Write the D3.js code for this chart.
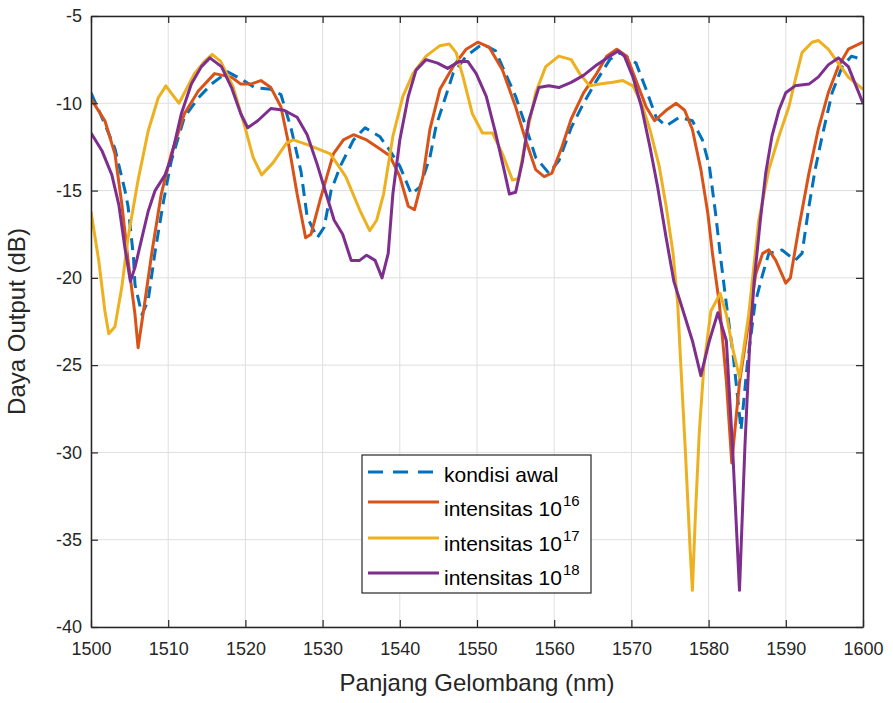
<!DOCTYPE html>
<html>
<head>
<meta charset="utf-8">
<script src="https://d3js.org/d3.v7.min.js"></script>
<style>
  body { margin: 0; background: #fff; }
  text { font-family: "Liberation Sans", Arial, sans-serif; }
  .tick text { fill: #262626; font-size: 18px; }
</style>
</head>
<body>
<div id="chart"></div>
<script>
// data (wavelength in nm, output in dB)
var awalX = [1500, 1501.8, 1503.1, 1504.4, 1504.8, 1505.5, 1505.7, 1506.6, 1507.4, 1508.3, 1509.4, 1510.4, 1512.1, 1513.9, 1515.6, 1517.7, 1519.4, 1521.2, 1523.3, 1524.6, 1525.9, 1527.2, 1528, 1529.3, 1530.2, 1531.1, 1532.3, 1534, 1535.5, 1537.4, 1538.7, 1540, 1541.5, 1542.6, 1543.9, 1544.7, 1545.8, 1546.9, 1548.6, 1550.7, 1552.4, 1553.7, 1555, 1556.3, 1557.6, 1559.3, 1560.6, 1562.2, 1563.8, 1565.5, 1567.2, 1568.5, 1570.6, 1571.9, 1573.2, 1574.5, 1576.2, 1577.9, 1579.2, 1580.1, 1580.9, 1581.6, 1582.3, 1583.2, 1584.2, 1585, 1586, 1587, 1587.8, 1589.5, 1591.2, 1592.1, 1593, 1593.8, 1594.7, 1596, 1597.3, 1598.5, 1600];
var awalY = [-9.4, -11.2, -12.6, -15.0, -15.9, -18.8, -20.4, -22.1, -21.3, -18.5, -15.6, -13.3, -10.8, -9.7, -8.9, -8.2, -8.6, -9.1, -9.2, -9.5, -11.4, -13.9, -16.5, -17.7, -17.1, -15.0, -13.6, -12.1, -11.4, -11.9, -12.7, -13.6, -15.2, -14.8, -13.1, -11.3, -9.8, -8.3, -7.3, -6.6, -7.0, -8.3, -9.6, -11.3, -13.1, -14, -13.3, -11.4, -10, -8.7, -7.5, -7.1, -7.7, -9.2, -10.8, -11.3, -10.8, -11, -12.1, -13.6, -16.3, -19, -21.5, -24.5, -28.7, -25, -21.5, -19.8, -18.6, -18.4, -19, -18.6, -15.9, -13.8, -11.9, -9.4, -7.9, -7.3, -7.5];

var i16X = [1500, 1501.8, 1503.1, 1504, 1504.8, 1505.7, 1506.1, 1507, 1507.9, 1509.1, 1510.4, 1512.1, 1513.9, 1516, 1518.2, 1519.4, 1520.7, 1522, 1523.3, 1524.6, 1525.5, 1526.7, 1527.8, 1528.5, 1529.7, 1531.4, 1532.7, 1534, 1535.7, 1537.4, 1538.7, 1540, 1541.1, 1541.9, 1543, 1543.9, 1545.2, 1546.9, 1548.6, 1550.1, 1551.6, 1553.3, 1555, 1556.3, 1557.6, 1558.7, 1559.7, 1561, 1562.2, 1563.8, 1565.5, 1566.8, 1568.1, 1569.4, 1570.6, 1571.9, 1573, 1574.5, 1575.8, 1576.9, 1577.9, 1579, 1579.9, 1580.5, 1581.4, 1582.3, 1583, 1584, 1585.2, 1586.1, 1587, 1587.8, 1588.7, 1590, 1590.6, 1591.7, 1593, 1594.2, 1595.5, 1596.8, 1598.1, 1600];
var i16Y = [-9.75, -11, -12.9, -15.8, -19, -22.1, -24, -21.3, -18.5, -15.2, -12.9, -10.6, -9.3, -8.3, -8.5, -8.9, -8.9, -8.7, -9.1, -10.2, -12.1, -15.2, -17.7, -17.5, -15.5, -12.9, -12.1, -11.8, -12.1, -12.6, -13, -14.2, -15.9, -16.1, -14.2, -11.5, -9.2, -7.9, -6.9, -6.5, -6.8, -8.1, -10.2, -12.1, -13.8, -14.2, -14, -12.5, -10.9, -9.4, -8.3, -7.3, -6.9, -7.3, -8.7, -10.2, -11, -10.4, -10, -10.4, -11.5, -13.8, -16.3, -18.6, -21.5, -25.9, -30.6, -26, -22.5, -19.8, -18.6, -18.4, -19, -20.3, -20, -17.1, -14, -11.5, -9.4, -7.9, -6.9, -6.5];

var i17X = [1500, 1501, 1501.8, 1502.3, 1503.1, 1504, 1504.8, 1506.1, 1507.4, 1508.7, 1509.7, 1511.4, 1513.4, 1514.7, 1515.7, 1516.8, 1518.4, 1519.9, 1521, 1522.1, 1523.6, 1525.3, 1526.2, 1528.2, 1531, 1533, 1534.8, 1536.1, 1537, 1537.9, 1539.1, 1540.4, 1541.7, 1543.4, 1545.2, 1546.4, 1547.3, 1548.2, 1549.4, 1550.7, 1552, 1553.3, 1554.6, 1555.4, 1556.3, 1557.6, 1558.9, 1560.6, 1562.2, 1563.3, 1564.6, 1565.9, 1567.6, 1568.9, 1570.2, 1571.3, 1572.4, 1573.6, 1574.5, 1575.4, 1576, 1576.4, 1577, 1577.6, 1577.9, 1578.3, 1578.8, 1579.4, 1580.3, 1581.5, 1582.3, 1583.1, 1584, 1585.2, 1586.5, 1587.8, 1589.1, 1590.4, 1591.2, 1592.1, 1593.4, 1594.2, 1595.5, 1596.8, 1598.1, 1600];
var i17Y = [-16.2, -19, -21.9, -23.2, -22.8, -20.5, -17.7, -14.4, -11.6, -9.7, -9, -10, -8.3, -7.6, -7.2, -7.6, -9.05, -11.3, -13.1, -14.1, -13.4, -12.3, -12.1, -12.4, -12.9, -14.2, -16.1, -17.3, -16.7, -15.2, -11.9, -9.6, -8.3, -7.3, -6.7, -6.6, -7.1, -8.5, -10.6, -11.7, -11.7, -12.9, -14.4, -14.3, -12.1, -9.4, -7.9, -7.3, -7.5, -8.3, -9, -8.9, -8.8, -8.7, -9, -10, -11.5, -13.6, -15.9, -18.6, -21.5, -25, -30, -35.5, -37.9, -33.5, -28.8, -25, -21.9, -20.9, -22.1, -24, -25.7, -22.1, -16.7, -13.8, -11.9, -10.2, -8.7, -7.1, -6.5, -6.4, -6.9, -7.7, -8.5, -9.2];

var i18X = [1500, 1501.4, 1502.7, 1503.6, 1504.4, 1505.1, 1505.7, 1506.6, 1507.4, 1508.3, 1509.6, 1510.4, 1511.7, 1513, 1514.3, 1515.4, 1516.9, 1518.2, 1519.4, 1520.3, 1521.6, 1523.3, 1525, 1526.7, 1528, 1529.3, 1530.6, 1531.5, 1532.6, 1533.7, 1534.8, 1535.7, 1536.8, 1537.7, 1538.5, 1539.1, 1540, 1541.1, 1542.1, 1543.4, 1544.9, 1546.2, 1547.7, 1548.8, 1549.9, 1551.2, 1552.4, 1553.5, 1554.2, 1555, 1555.9, 1556.7, 1558, 1559.3, 1560.6, 1562.2, 1563.8, 1565.5, 1567.2, 1568.3, 1569.1, 1570.2, 1571.3, 1572.4, 1573.4, 1574.5, 1575.5, 1576.7, 1577.9, 1579, 1580.1, 1581.2, 1582.3, 1583.1, 1584, 1584.7, 1585.3, 1585.9, 1586.7, 1587.4, 1588.2, 1589.1, 1590, 1591.2, 1593, 1594.2, 1595.5, 1596.8, 1598.1, 1599, 1600];
var i18Y = [-11.7, -12.7, -14.1, -15.8, -18.3, -20.2, -19.4, -17.7, -16.2, -15, -14.1, -13.1, -10.6, -8.9, -7.9, -7.4, -7.9, -9.1, -10.6, -11.4, -11, -10.3, -10.4, -10.8, -11.8, -13.5, -15.4, -16.7, -17.5, -19, -19, -18.7, -19, -20, -18.6, -15.2, -12.1, -9.6, -8.1, -7.5, -7.7, -8, -7.6, -7.6, -8.3, -9.6, -11.7, -13.8, -15.2, -15.1, -13.3, -11, -9.1, -9, -9.1, -8.8, -8.4, -7.8, -7.3, -7, -7.3, -8.5, -10.2, -12.5, -14.8, -17.7, -20.2, -21.9, -23.6, -25.6, -23.6, -22, -23.6, -29.7, -37.9, -29.7, -24, -20.2, -16.7, -14, -11.9, -10.4, -9.4, -9, -8.9, -8.5, -7.8, -7.4, -7.9, -8.9, -10];

var xTicks = [1500, 1510, 1520, 1530, 1540, 1550, 1560, 1570, 1580, 1590, 1600];
var yTicks = [-40, -35, -30, -25, -20, -15, -10, -5];

var seriesNames = ["kondisi awal", "intensitas 10", "intensitas 10", "intensitas 10"];
var seriesSup = ["", "16", "17", "18"];
var seriesColors = ["#0072BD", "#D95319", "#EDB120", "#7E2F8E"];

// set up the svg
var svgWidth = 893;
var svgHeight = 703;

var margin = { top: 16, right: 30, bottom: 76, left: 91 };
var width = svgWidth - margin.left - margin.right;
var height = svgHeight - margin.top - margin.bottom;

var svg = d3.select("#chart")
    .append("svg")
    .attr("width", svgWidth)
    .attr("height", svgHeight);

var chartGroup = svg.append("g")
    .attr("transform", `translate(${margin.left}, ${margin.top})`);

var xScale = d3.scaleLinear().domain([1500, 1600]).range([0, width]);
var yScale = d3.scaleLinear().domain([-40, -5]).range([height, 0]);

// grid
chartGroup.append("g").selectAll("line")
    .data(xTicks)
    .enter()
    .append("line")
    .attr("x1", d => xScale(d)).attr("x2", d => xScale(d))
    .attr("y1", 0).attr("y2", height)
    .attr("stroke", "#dfdfdf").attr("stroke-width", 1);

chartGroup.append("g").selectAll("line")
    .data(yTicks)
    .enter()
    .append("line")
    .attr("y1", d => yScale(d)).attr("y2", d => yScale(d))
    .attr("x1", 0).attr("x2", width)
    .attr("stroke", "#dfdfdf").attr("stroke-width", 1);

// lines
var lineGen = d3.line()
    .x(d => xScale(d[0]))
    .y(d => yScale(d[1]));

var seriesData = [
    d3.zip(awalX, awalY),
    d3.zip(i16X, i16Y),
    d3.zip(i17X, i17Y),
    d3.zip(i18X, i18Y)
];

svg.append("defs").append("clipPath").attr("id", "plotclip")
    .append("rect").attr("x", 0).attr("y", 0).attr("width", width).attr("height", height);

var linesGroup = chartGroup.append("g").attr("clip-path", "url(#plotclip)");

seriesData.forEach(function(data, i) {
    linesGroup.append("path")
        .datum(data)
        .attr("d", lineGen)
        .attr("fill", "none")
        .attr("stroke", seriesColors[i])
        .attr("stroke-width", 3)
        .attr("stroke-linejoin", "round")
        .attr("stroke-dasharray", i === 0 ? "12,7" : null);
});

// axes with inward ticks, box on all sides
var plainFormat = d => String(d);
var bottomAxis = d3.axisBottom(xScale).tickValues(xTicks).tickSizeInner(-7).tickSizeOuter(0).tickPadding(15).tickFormat(plainFormat);
var leftAxis = d3.axisLeft(yScale).tickValues(yTicks).tickSizeInner(-7).tickSizeOuter(0).tickPadding(9).tickFormat(plainFormat);
var topAxis = d3.axisTop(xScale).tickValues(xTicks).tickSizeInner(-7).tickSizeOuter(0).tickFormat("");
var rightAxis = d3.axisRight(yScale).tickValues(yTicks).tickSizeInner(-7).tickSizeOuter(0).tickFormat("");

var axisColor = "#262626";

chartGroup.append("g")
    .attr("transform", `translate(0, ${height})`)
    .call(bottomAxis);
chartGroup.append("g").call(leftAxis);
chartGroup.append("g").call(topAxis);
chartGroup.append("g").attr("transform", `translate(${width}, 0)`).call(rightAxis);

chartGroup.selectAll(".domain").attr("stroke", axisColor).attr("stroke-width", 1.5);
chartGroup.selectAll(".tick line").attr("stroke", axisColor).attr("stroke-width", 1.2);
chartGroup.selectAll(".tick text").attr("font-family", null).attr("font-size", null);

// axis titles
svg.append("text")
    .attr("x", margin.left + width / 2)
    .attr("y", 691)
    .attr("text-anchor", "middle")
    .attr("fill", axisColor)
    .attr("font-size", "24px")
    .text("Panjang Gelombang (nm)");

svg.append("text")
    .attr("transform", `translate(25, ${margin.top + height / 2}) rotate(-90)`)
    .attr("text-anchor", "middle")
    .attr("fill", axisColor)
    .attr("font-size", "24px")
    .text("Daya Output (dB)");

// legend
var legendGroup = svg.append("g").attr("transform", "translate(362, 455)");

legendGroup.append("rect")
    .attr("x", 0).attr("y", 0)
    .attr("width", 229).attr("height", 138)
    .attr("fill", "#fff")
    .attr("stroke", axisColor)
    .attr("stroke-width", 1.2);

var lineY = [17, 47, 83, 118];
var textY = [27, 61, 96, 130];

seriesNames.forEach(function(name, i) {
    legendGroup.append("line")
        .attr("x1", 6).attr("x2", 77)
        .attr("y1", lineY[i]).attr("y2", lineY[i])
        .attr("stroke", seriesColors[i])
        .attr("stroke-width", 3)
        .attr("stroke-dasharray", i === 0 ? "15,10" : null);

    var label = legendGroup.append("text")
        .attr("x", 82)
        .attr("y", textY[i])
        .attr("fill", "#000")
        .attr("font-size", "21px")
        .text(name);

    if (seriesSup[i]) {
        label.append("tspan")
            .attr("dx", 1)
            .attr("dy", -10)
            .attr("font-size", "15px")
            .text(seriesSup[i]);
    }
});
</script>
</body>
</html>
